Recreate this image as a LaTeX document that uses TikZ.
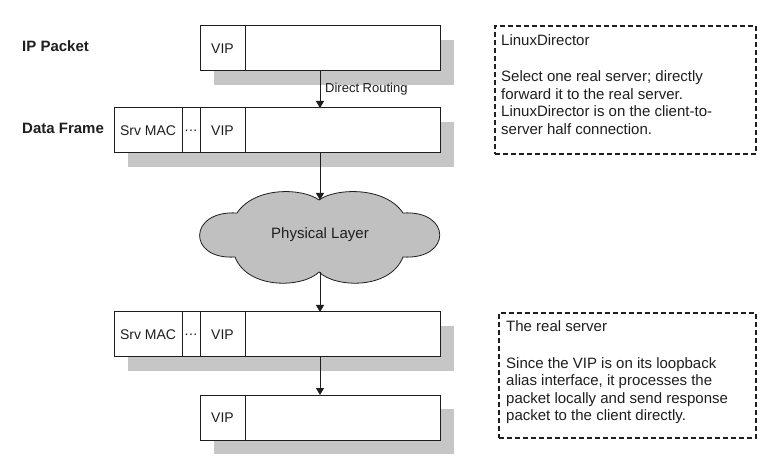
\documentclass[tikz,border=0pt]{standalone}
\usepackage{fontspec}
\setmainfont{Liberation Sans}
\usetikzlibrary{arrows.meta}
\definecolor{shadowc}{RGB}{198,198,198}
\definecolor{cloudc}{RGB}{192,192,192}
\definecolor{inkc}{RGB}{30,30,30}
\begin{document}
\begin{tikzpicture}[x=1pt,y=-1pt,
  cell/.style={draw=inkc, fill=white, line width=1pt, minimum height=45pt, inner sep=0pt, outer sep=0pt,
    anchor=north west, font=\fontsize{14}{16}\selectfont, text=inkc},
  shadowbox/.style={fill=shadowc},
  notebox/.style={draw=inkc, line width=1.1pt, dash pattern=on 5pt off 3pt, inner sep=0pt,
    outer sep=0pt, anchor=north west},
  noteline/.style={anchor=base west, inner sep=0pt, font=\fontsize{15}{17.5}\selectfont, text=inkc},
  rowlabel/.style={anchor=base west, inner sep=0pt, font=\fontsize{15}{17.5}\selectfont\bfseries, text=inkc},
  flow/.style={draw=inkc, line width=1pt, -{Triangle[width=8pt,length=7pt]}}
]
\useasboundingbox (0,0) rectangle (774,462);
\fill[white] (0,0) rectangle (774,462);

% shadows
\fill[shadowbox] (214,40) rectangle (454,85);
\fill[shadowbox] (128,122) rectangle (454,167);
\fill[shadowbox] (128,326) rectangle (454,371);
\fill[shadowbox] (214,409) rectangle (454,454);

% row labels
\node[rowlabel] (lip) at (22,51.5) {IP Packet};
\node[rowlabel] (ldf) at (22,134) {Data Frame};

% IP packet
\node[cell, minimum width=45pt] (ipvip) at (200,26) {VIP};
\node[cell, minimum width=195pt] (ipdata) at (ipvip.north east) {};

% data frame
\node[cell, minimum width=68pt] (dfmac) at (114,108) {Srv MAC};
\node[cell, minimum width=18pt] (dfdots) at (dfmac.north east) {.\kern0.5pt.\kern0.5pt.};
\node[cell, minimum width=45pt] (dfvip) at (dfdots.north east) {VIP};
\node[cell, minimum width=195pt] (dfdata) at (dfvip.north east) {};

% received frame
\node[cell, minimum width=68pt] (rfmac) at (114,312) {Srv MAC};
\node[cell, minimum width=18pt] (rfdots) at (rfmac.north east) {.\kern0.5pt.\kern0.5pt.};
\node[cell, minimum width=45pt] (rfvip) at (rfdots.north east) {VIP};
\node[cell, minimum width=195pt] (rfdata) at (rfvip.north east) {};

% received packet
\node[cell, minimum width=45pt] (rpvip) at (200,395) {VIP};
\node[cell, minimum width=195pt] (rpdata) at (rpvip.north east) {};

% cloud
\draw[fill=cloudc, draw=inkc, line width=0.8pt]
  (319,200) .. controls (335,188) and (385,186) .. (403,213)
  .. controls (452,210) and (452,260) .. (403,257)
  .. controls (390,290) and (335,288) .. (319,272)
  .. controls (303,288) and (248,290) .. (235,257)
  .. controls (187,260) and (188,210) .. (237,213)
  .. controls (255,186) and (303,188) .. (319,200) -- cycle;
\node[font=\fontsize{15}{17.5}\selectfont, text=inkc, inner sep=0pt] (phys) at (320,235) {Physical Layer};
\coordinate (axis) at (320,0);
\coordinate (cloudtop) at (320,200);
\coordinate (cloudbot) at (320,272);

% connectors
\draw[flow] (ipdata.south -| axis) -- (dfdata.north -| axis);
\node[anchor=base west, inner sep=0pt, font=\fontsize{13}{15}\selectfont, text=inkc] (dr) at (325,93) {Direct Routing};
\draw[flow] (dfdata.south -| axis) -- (cloudtop);
\draw[flow] (cloudbot) -- (rfdata.north -| axis);
\draw[flow] (rfdata.south -| axis) -- (rpdata.north -| axis);

% note boxes
\node[notebox, minimum width=261pt, minimum height=128pt] (dirbox) at (495,26) {};
\node[noteline] (d0) at (501,46) {LinuxDirector};
\node[noteline] (d1) at (501,82) {Select one real server; directly};
\node[noteline] (d2) at (501,99.5) {forward it to the real server.};
\node[noteline] (d3) at (501,117) {LinuxDirector is on the client-to-};
\node[noteline] (d4) at (501,134.5) {server half connection.};

\node[notebox, minimum width=257pt, minimum height=125pt] (rsbox) at (499,313) {};
\node[noteline] (r0) at (506,332) {The real server};
\node[noteline] (r1) at (506,368) {Since the VIP is on its loopback};
\node[noteline] (r2) at (506,385.5) {alias interface, it processes the};
\node[noteline] (r3) at (506,403) {packet locally and send response};
\node[noteline] (r4) at (506,420.5) {packet to the client directly.};
\end{tikzpicture}
\end{document}
